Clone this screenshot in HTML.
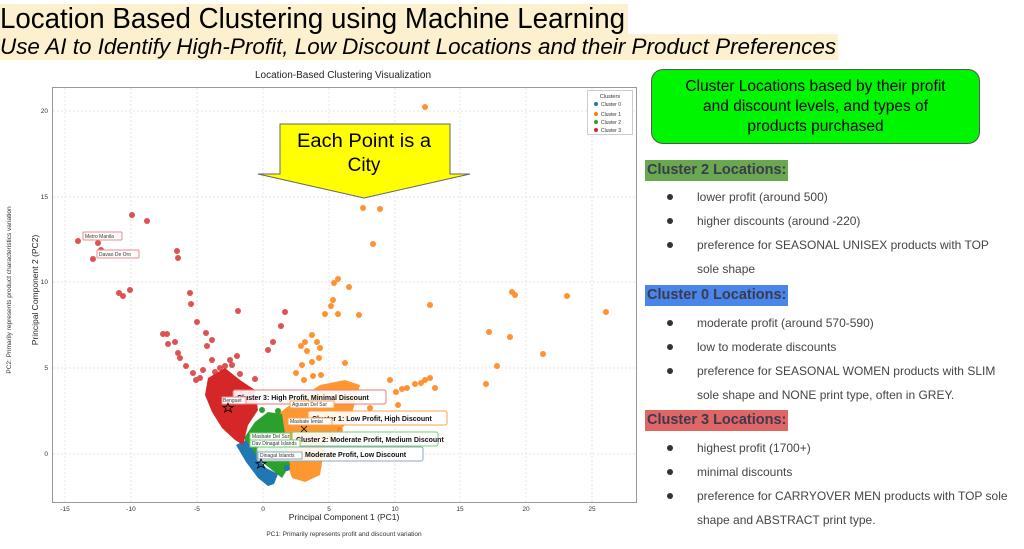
<!DOCTYPE html>
<html><head><meta charset="utf-8"><style>
body{margin:0;width:1024px;height:549px;background:#fff;position:relative;overflow:hidden;font-family:"Liberation Sans",sans-serif}
.a{position:absolute;white-space:nowrap}
.t1{left:0;top:4px;height:30px;width:628px;background:#fdf0cf;font-size:29px;line-height:30px;color:#000}
.t1 span{display:inline-block;transform:scaleX(0.955);transform-origin:0 0}
.t2{left:0;top:34px;height:26px;width:838px;background:#fdf0cf;font-style:italic;font-size:22px;line-height:26px;color:#000}
.t2 span{display:inline-block;transform:scaleX(1.02);transform-origin:0 0}
.gbox{left:651px;top:69px;width:329px;height:75px;background:#00f500;border:1px solid #555;border-radius:12px;text-align:center;font-size:15.5px;line-height:20px;padding:7px 4px 0;box-sizing:border-box;white-space:nowrap}
.h{font-weight:bold;font-size:14.5px;color:#3a3a50;padding:1px 2px;height:19px;line-height:19px}
.b{font-size:12px;color:#444}
.d{position:absolute;width:6px;height:6px;border-radius:3px;background:#333}
</style></head><body>
<div class="a t1"><span>Location Based Clustering using Machine Learning</span></div>
<div class="a t2"><span>Use AI to Identify High-Profit, Low Discount Locations and their Product Preferences</span></div>

<svg class="a" style="left:0;top:0" width="640" height="549" font-family="Liberation Sans, sans-serif">
<text x="343" y="78" font-size="10" text-anchor="middle" fill="#222">Location-Based Clustering Visualization</text>
<rect x="52.5" y="87.5" width="584" height="415" fill="none" stroke="#999"/>
<g stroke="#e4e4e4" stroke-dasharray="2,2">
<line x1="65" y1="88" x2="65" y2="502"/><line x1="131" y1="88" x2="131" y2="502"/><line x1="197" y1="88" x2="197" y2="502"/><line x1="263" y1="88" x2="263" y2="502"/><line x1="329" y1="88" x2="329" y2="502"/><line x1="395" y1="88" x2="395" y2="502"/><line x1="460" y1="88" x2="460" y2="502"/><line x1="526" y1="88" x2="526" y2="502"/><line x1="592" y1="88" x2="592" y2="502"/>
<line x1="53" y1="111" x2="636" y2="111"/><line x1="53" y1="197" x2="636" y2="197"/><line x1="53" y1="282" x2="636" y2="282"/><line x1="53" y1="368" x2="636" y2="368"/><line x1="53" y1="454" x2="636" y2="454"/>
</g>
<g font-size="6.5" fill="#333" text-anchor="middle">
<text x="65" y="511">-15</text><text x="131" y="511">-10</text><text x="197" y="511">-5</text><text x="263" y="511">0</text><text x="329" y="511">5</text><text x="395" y="511">10</text><text x="460" y="511">15</text><text x="526" y="511">20</text><text x="592" y="511">25</text>
</g>
<g font-size="6.5" fill="#333" text-anchor="end">
<text x="48" y="113">20</text><text x="48" y="199">15</text><text x="48" y="284">10</text><text x="48" y="370">5</text><text x="48" y="456">0</text>
</g>
<text x="344" y="520" font-size="8.5" text-anchor="middle" fill="#222">Principal Component 1 (PC1)</text>
<text x="344" y="536" font-size="6.5" text-anchor="middle" fill="#333">PC1: Primarily represents profit and discount variation</text>
<text transform="translate(38,290) rotate(-90)" font-size="8.5" text-anchor="middle" fill="#222">Principal Component 2 (PC2)</text>
<text transform="translate(11,290) rotate(-90)" font-size="6.5" text-anchor="middle" fill="#333">PC2: Primarily represents product characteristics variation</text>

<polygon points="270,420 290,405 320,385 345,380 360,385 350,420 325,445 320,475 305,482 292,478 282,450" fill="#ff8c1a" opacity=".9"/>
<polygon points="244,438 255,422 268,412 282,414 286,440 290,465 282,478 272,470 262,462 250,450" fill="#2ca02c"/>
<polygon points="236,445 246,440 256,455 266,468 278,474 274,484 268,486 258,478 246,462" fill="#1f77b4"/>
<polygon points="208,378 225,368 240,380 255,390 258,410 248,425 243,445 235,440 222,428 212,412 205,395" fill="#d62728"/>
<g fill="#d62728" opacity=".8">
<circle cx="78" cy="241" r="3"/><circle cx="98" cy="243" r="3"/><circle cx="93" cy="259" r="3"/><circle cx="101" cy="250" r="3"/><circle cx="132" cy="215" r="3"/><circle cx="147" cy="221" r="3"/>
<circle cx="177" cy="251" r="3"/><circle cx="178" cy="258" r="3"/><circle cx="119" cy="293" r="3"/><circle cx="123" cy="296" r="3"/><circle cx="130" cy="290" r="3"/>
<circle cx="190" cy="293" r="3"/><circle cx="191" cy="304" r="3"/><circle cx="238" cy="311" r="3"/><circle cx="285" cy="312" r="3"/><circle cx="281" cy="326" r="3"/><circle cx="273" cy="342" r="3"/><circle cx="268" cy="350" r="3"/>
<circle cx="163" cy="334" r="3"/><circle cx="167" cy="334" r="3"/><circle cx="168" cy="344" r="3"/><circle cx="175" cy="342" r="3"/><circle cx="180" cy="358" r="3"/><circle cx="178" cy="353" r="3"/>
<circle cx="197" cy="322" r="3"/><circle cx="206" cy="333" r="3"/><circle cx="207" cy="346" r="3"/><circle cx="212" cy="340" r="3"/><circle cx="212" cy="360" r="3"/><circle cx="186" cy="366" r="3"/><circle cx="193" cy="373" r="3"/><circle cx="200" cy="378" r="3"/><circle cx="196" cy="380" r="3"/>
<circle cx="215" cy="372" r="3"/><circle cx="220" cy="368" r="3"/><circle cx="225" cy="366" r="3"/><circle cx="232" cy="365" r="3"/><circle cx="237" cy="356" r="3"/><circle cx="225" cy="382" r="3"/><circle cx="240" cy="374" r="3"/><circle cx="230" cy="360" r="3"/><circle cx="203" cy="370" r="3"/><circle cx="255" cy="379" r="3"/>
</g>
<g fill="#ff7f0e" opacity=".85">
<circle cx="425" cy="107" r="3"/><circle cx="363" cy="208" r="3"/><circle cx="380" cy="209" r="3"/><circle cx="373" cy="244" r="3"/>
<circle cx="338" cy="279" r="3"/><circle cx="334" cy="283" r="3"/><circle cx="349" cy="287" r="3"/><circle cx="333" cy="300" r="3"/><circle cx="331" cy="306" r="3"/><circle cx="338" cy="314" r="3"/><circle cx="359" cy="315" r="3"/>
<circle cx="325" cy="314" r="3"/><circle cx="312" cy="335" r="3"/><circle cx="305" cy="342" r="3"/><circle cx="301" cy="346" r="3"/><circle cx="307" cy="351" r="3"/><circle cx="317" cy="342" r="3"/><circle cx="320" cy="348" r="3"/><circle cx="319" cy="358" r="3"/><circle cx="312" cy="362" r="3"/><circle cx="302" cy="365" r="3"/><circle cx="296" cy="373" r="3"/><circle cx="304" cy="380" r="3"/><circle cx="313" cy="376" r="3"/><circle cx="321" cy="375" r="3"/>
<circle cx="345" cy="363" r="3"/><circle cx="390" cy="380" r="3"/><circle cx="396" cy="392" r="3"/><circle cx="402" cy="389" r="3"/><circle cx="407" cy="388" r="3"/><circle cx="415" cy="384" r="3"/><circle cx="421" cy="383" r="3"/><circle cx="425" cy="380" r="3"/><circle cx="430" cy="378" r="3"/><circle cx="435" cy="388" r="3"/>
<circle cx="430" cy="305" r="3"/><circle cx="512" cy="292" r="3"/><circle cx="515" cy="295" r="3"/><circle cx="489" cy="332" r="3"/><circle cx="510" cy="337" r="3"/><circle cx="486" cy="384" r="3"/><circle cx="497" cy="366" r="3"/><circle cx="543" cy="354" r="3"/><circle cx="567" cy="296" r="3"/><circle cx="606" cy="312" r="3"/>
<circle cx="345" cy="400" r="3"/><circle cx="360" cy="400" r="3"/><circle cx="370" cy="408" r="3"/><circle cx="380" cy="418" r="3"/><circle cx="398" cy="405" r="3"/><circle cx="340" cy="430" r="3"/><circle cx="330" cy="455" r="3"/>
</g>
<g fill="#1f77b4"><circle cx="287" cy="468" r="3"/><circle cx="270" cy="482" r="3"/><circle cx="265" cy="478" r="3"/></g>
<g fill="#2ca02c"><circle cx="262" cy="410" r="3"/><circle cx="278" cy="411" r="3"/></g>
<rect x="587.5" y="90.5" width="45" height="44" fill="#fff" stroke="#ccc"/>
<text x="610" y="98" font-size="5.5" text-anchor="middle" fill="#333">Clusters</text>
<g font-size="5" fill="#333"><circle cx="596" cy="104" r="2" fill="#1f77b4"/><text x="601" y="106">Cluster 0</text>
<circle cx="596" cy="114" r="2" fill="#ff7f0e"/><text x="601" y="116">Cluster 1</text>
<circle cx="596" cy="122" r="2" fill="#2ca02c"/><text x="601" y="124">Cluster 2</text>
<circle cx="596" cy="130" r="2" fill="#d62728"/><text x="601" y="132">Cluster 3</text></g>
<g font-size="5" fill="#333">
<rect x="83" y="232" width="39" height="8" fill="#fff" stroke="#e88" rx="1"/><text x="85" y="238">Metro Manila</text>
<rect x="97" y="250" width="42" height="8" fill="#fff" stroke="#e88" rx="1"/><text x="99" y="256">Davao De Oro</text>
</g>
<g font-size="7" font-weight="bold" fill="#111">
<rect x="233" y="390" width="153" height="14" fill="#fff" fill-opacity=".9" stroke="#e77" rx="2"/><text x="237" y="400">Cluster 3: High Profit, Minimal Discount</text>
<rect x="308" y="411" width="139" height="14" fill="#fff" fill-opacity=".9" stroke="#f9a050" rx="2"/><text x="312" y="421">Cluster 1: Low Profit, High Discount</text>
<rect x="292" y="432" width="146" height="14" fill="#fff" fill-opacity=".9" stroke="#7c7" rx="2"/><text x="296" y="442">Cluster 2: Moderate Profit, Medium Discount</text>
<rect x="257" y="447" width="166" height="14" fill="#fff" fill-opacity=".9" stroke="#8ab" rx="2"/><text x="305" y="457">Moderate Profit, Low Discount</text>
</g>
<g font-size="5" fill="#333">
<rect x="222" y="397" width="24" height="7" fill="#fff" stroke="#e88"/><text x="223" y="402">Benguet</text>
<rect x="290" y="401" width="44" height="7" fill="#fff" stroke="#f9a050"/><text x="292" y="406">Agusan Del Sur</text>
<rect x="288" y="418" width="44" height="7" fill="#fff" stroke="#f9a050"/><text x="290" y="423">Masbate Ientai</text>
<rect x="250" y="433" width="40" height="7" fill="#fff" stroke="#7c7"/><text x="252" y="438">Masbate Del Sur</text>
<rect x="250" y="440" width="50" height="7" fill="#fff" stroke="#7c7"/><text x="252" y="445">Dav Dinagat Islands</text>
<rect x="258" y="452" width="44" height="7" fill="#fff" stroke="#8ab"/><text x="260" y="457">Dinagat Islands</text>
</g>
<g fill="none" stroke="#000" stroke-width=".8">
<polygon points="228,403 229.5,406.5 233,406.5 230,408.5 231.5,412 228,410 224.5,412 226,408.5 223,406.5 226.5,406.5"/>
<polygon points="261,459 262.5,462.5 266,462.5 263,464.5 264.5,468 261,466 257.5,468 259,464.5 256,462.5 259.5,462.5"/>
<path d="M301,426 l6,6 M307,426 l-6,6"/>
</g>
<polygon points="280,124 450,124 450,174 470,174 364,198 258,174 280,174" fill="#ffff00" stroke="#666" stroke-width="1"/>
<text x="364" y="147" font-size="19" text-anchor="middle" fill="#000" textLength="134" lengthAdjust="spacingAndGlyphs">Each Point is a</text>
<text x="364" y="171" font-size="19" text-anchor="middle" fill="#000">City</text>
</svg>

<div class="a gbox">Cluster Locations based by their profit<br>and discount levels, and types of<br>products purchased</div>

<div class="a h" style="left:645px;top:160px;background:#6aa84f">Cluster 2 Locations:</div>
<div class="d" style="left:667px;top:194px"></div><div class="a b" style="left:697px;top:190px">lower profit (around 500)</div>
<div class="d" style="left:667px;top:218px"></div><div class="a b" style="left:697px;top:214px">higher discounts (around -220)</div>
<div class="d" style="left:667px;top:242px"></div><div class="a b" style="left:697px;top:238px">preference for SEASONAL UNISEX products with TOP</div>
<div class="a b" style="left:697px;top:262px">sole shape</div>

<div class="a h" style="left:645px;top:285px;background:#4a86e8">Cluster 0 Locations:</div>
<div class="d" style="left:667px;top:320px"></div><div class="a b" style="left:697px;top:316px">moderate profit (around 570-590)</div>
<div class="d" style="left:667px;top:344px"></div><div class="a b" style="left:697px;top:340px">low to moderate discounts</div>
<div class="d" style="left:667px;top:368px"></div><div class="a b" style="left:697px;top:364px">preference for SEASONAL WOMEN products with SLIM</div>
<div class="a b" style="left:697px;top:388px">sole shape and NONE print type, often in GREY.</div>

<div class="a h" style="left:645px;top:410px;background:#e06666">Cluster 3 Locations:</div>
<div class="d" style="left:667px;top:445px"></div><div class="a b" style="left:697px;top:441px">highest profit (1700+)</div>
<div class="d" style="left:667px;top:469px"></div><div class="a b" style="left:697px;top:465px">minimal discounts</div>
<div class="d" style="left:667px;top:493px"></div><div class="a b" style="left:697px;top:489px">preference for CARRYOVER MEN products with TOP sole</div>
<div class="a b" style="left:697px;top:513px">shape and ABSTRACT print type.</div>
</body></html>
